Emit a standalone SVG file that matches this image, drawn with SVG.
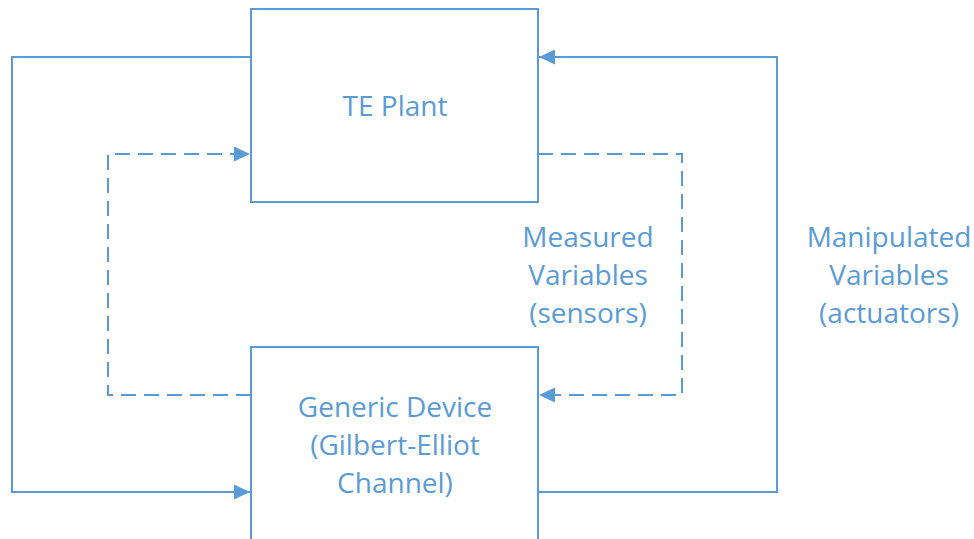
<svg xmlns="http://www.w3.org/2000/svg" width="974" height="539" viewBox="0 0 974 539">
  <style>
    .box { fill: #ffffff; stroke: #5b9bd5; stroke-width: 2; }
    .wire { fill: none; stroke: #5b9bd5; stroke-width: 2; }
    .dash { stroke-dasharray: 15 8; }
    .label { font-family: "Open Sans", "Liberation Sans", sans-serif; font-size: 28px; fill: #5b9bd5; text-anchor: middle; }
  </style>
  <defs>
    <marker id="arrow" viewBox="0 0 16 16" refX="16" refY="8" markerWidth="16" markerHeight="16" markerUnits="userSpaceOnUse" orient="auto">
      <path d="M0,0.5 L16,8 L0,15.5 Z" fill="#5b9bd5"/>
    </marker>
  </defs>
  <rect width="974" height="539" fill="#ffffff"/>

  <g id="connectors">
    <!-- plant output looping back into the device (left side) -->
    <path class="wire" d="M251,57 H12 V492 H250" marker-end="url(#arrow)"/>
    <!-- device output feeding the plant (right side) -->
    <path class="wire" d="M538,492 H777 V57 H539" marker-end="url(#arrow)"/>
    <!-- measured variables: plant to device -->
    <path class="wire dash" d="M538,154 H682 V395 H539" marker-end="url(#arrow)"/>
    <!-- device back to plant -->
    <path class="wire dash" d="M251,395 H108 V154 H250" marker-end="url(#arrow)"/>
  </g>

  <g id="te-plant">
    <rect class="box" x="251" y="9" width="287" height="193"/>
    <text class="label" x="395" y="116">TE Plant</text>
  </g>

  <g id="generic-device">
    <rect class="box" x="251" y="347" width="287" height="200"/>
    <text class="label" x="395" y="417">Generic Device</text>
    <text class="label" x="395" y="455">(Gilbert-Elliot</text>
    <text class="label" x="395" y="493">Channel)</text>
  </g>

  <g id="measured-label">
    <text class="label" x="588" y="247">Measured</text>
    <text class="label" x="588" y="285">Variables</text>
    <text class="label" x="588" y="323">(sensors)</text>
  </g>

  <g id="manipulated-label">
    <text class="label" x="889" y="247">Manipulated</text>
    <text class="label" x="889" y="285">Variables</text>
    <text class="label" x="889" y="323">(actuators)</text>
  </g>
</svg>
